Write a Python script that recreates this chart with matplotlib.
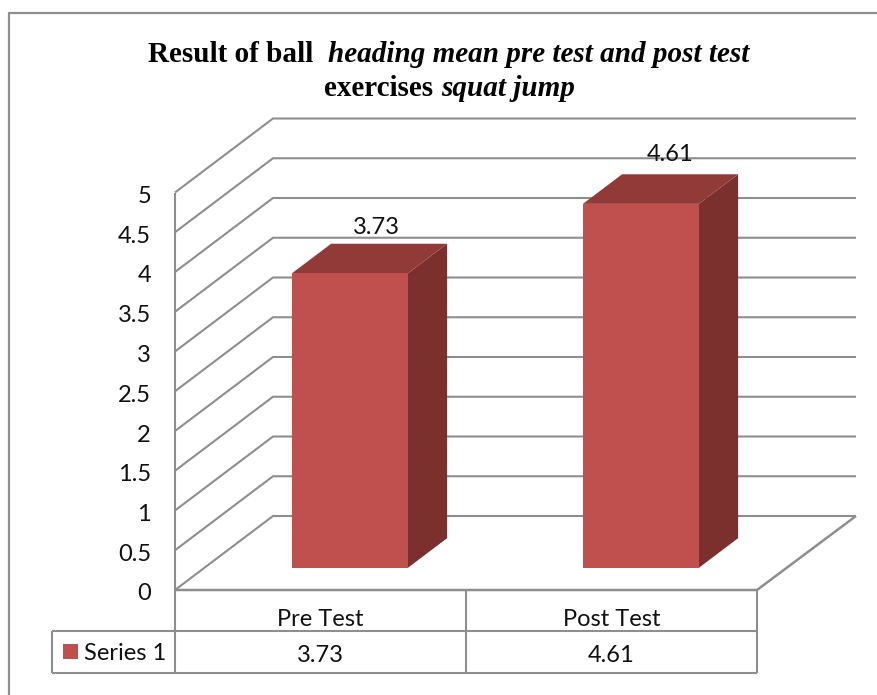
import matplotlib
matplotlib.use("Agg")
import matplotlib.pyplot as plt
from matplotlib.patches import Polygon, Rectangle

categories = ["Pre Test", "Post Test"]
values = [3.73, 4.61]
value_labels = ["3.73", "4.61"]
series_name = "Series 1"
y_ticks = [0, 0.5, 1, 1.5, 2, 2.5, 3, 3.5, 4, 4.5, 5]
y_tick_labels = ["0", "0.5", "1", "1.5", "2", "2.5", "3", "3.5", "4", "4.5", "5"]

W, H = 877, 695
grey = "#8E8E8E"
front_col = "#C0504D"
top_col = "#913A38"
side_col = "#7C302E"
sans = "Lato"
serif = "Liberation Serif"
label_size = 17

#pixel layout of the fake 3D box
x0_px, y0_px = 175, 590
cat_px = 291
val_px = 79.5
depth_px = (98, 74)

fig = plt.figure(figsize=(W / 100, H / 100), dpi=100)
ax = fig.add_axes([0, 0, 1, 1])
ax.set_xlim(-x0_px / cat_px, (W - x0_px) / cat_px)
ax.set_ylim(-(H - y0_px) / val_px, y0_px / val_px)
ax.axis("off")

ddx = depth_px[0] / cat_px
ddy = depth_px[1] / val_px
n = len(categories)


def py(y):
    #pixel row to data y
    return (y0_px - y) / val_px


def px(x):
    return (x - x0_px) / cat_px


def line(xs, ys, lw=1.5, z=1):
    ax.plot(xs, ys, color=grey, lw=lw, zorder=z, solid_capstyle="butt", solid_joinstyle="miter")


#walls and floor
right_back = px(856)
for t in y_ticks:
    line([0, ddx, right_back], [t, t + ddy, t + ddy])
line([0, 0], [0, y_ticks[-1]])
line([0, n, right_back], [0, 0, ddy], lw=1.8)

#y axis labels, sit a little below their gridline
for t, lab in zip(y_ticks, y_tick_labels):
    ax.text(px(151), t - 4 / val_px, lab, ha="right", va="center", fontsize=label_size, family=sans, color="#111111")

#bars
bar_w = 116 / cat_px
z_front = 0.30
z_depth = 0.40
bar_scale = 0.993  #bars come out a touch shorter than the wall scale
for i, v in enumerate(values):
    left = i + 0.5 + z_front * ddx - bar_w / 2
    right = left + bar_w
    bottom = z_front * ddy
    top = bottom + v * bar_scale
    dx = z_depth * ddx
    dy = z_depth * ddy
    ax.add_patch(Polygon([(right, bottom), (right + dx, bottom + dy), (right + dx, top + dy), (right, top)],
                         facecolor=side_col, edgecolor="none", zorder=3))
    ax.add_patch(Polygon([(left, top), (right, top), (right + dx, top + dy), (left + dx, top + dy)],
                         facecolor=top_col, edgecolor="none", zorder=3))
    ax.add_patch(Rectangle((left, bottom), bar_w, top - bottom, facecolor=front_col, edgecolor="none", zorder=4))

#value labels above the bars
label_shift = [(7, 16), (10, 20)]
for i, v in enumerate(values):
    cx = i + 0.5 + (z_front + z_depth / 2) * ddx + label_shift[i][0] / cat_px
    cy = z_front * ddy + v * bar_scale + z_depth * ddy + label_shift[i][1] / val_px
    ax.text(cx, cy, value_labels[i], ha="center", va="center", fontsize=label_size, family=sans, color="#111111", zorder=5)

#data table under the chart
row1 = py(631)
row2 = py(672.5)
tbl_left = px(52)
line([tbl_left, n], [row1, row1])
line([tbl_left, n], [row2, row2])
line([tbl_left, tbl_left], [row1, row2])
for i in range(n + 1):
    line([i, i], [0, row2])
for i in range(n):
    ax.text(i + 0.5, py(619), categories[i], ha="center", va="center", fontsize=label_size, family=sans, color="#111111")
    ax.text(i + 0.5, py(655), value_labels[i], ha="center", va="center", fontsize=label_size, family=sans, color="#111111")
ax.add_patch(Rectangle((px(63), py(659)), 15 / cat_px, 15 / val_px, facecolor=front_col, edgecolor="none"))
ax.text(px(84), py(654), series_name, ha="left", va="center", fontsize=label_size, family=sans, color="#111111")

#title, bold and bold italic pieces
title_parts = [
    (148, 62, "Result of ball", "normal"),
    (328, 62, "heading mean pre test and post test", "italic"),
    (324, 96, "exercises", "normal"),
    (441, 96, "squat jump", "italic"),
]
for x, y, s, style in title_parts:
    fig.text(x / W, 1 - y / H, s, family=serif, fontsize=21, fontweight="bold", fontstyle=style, color="black",
             ha="left", va="baseline")

#outer chart border, cut off by the image edge
fig.add_artist(plt.Line2D([9 / W, 9 / W, 1], [0, 1 - 13 / H, 1 - 13 / H], color=grey, lw=1.6))

fig.savefig("out.png", dpi=100, facecolor="white")
